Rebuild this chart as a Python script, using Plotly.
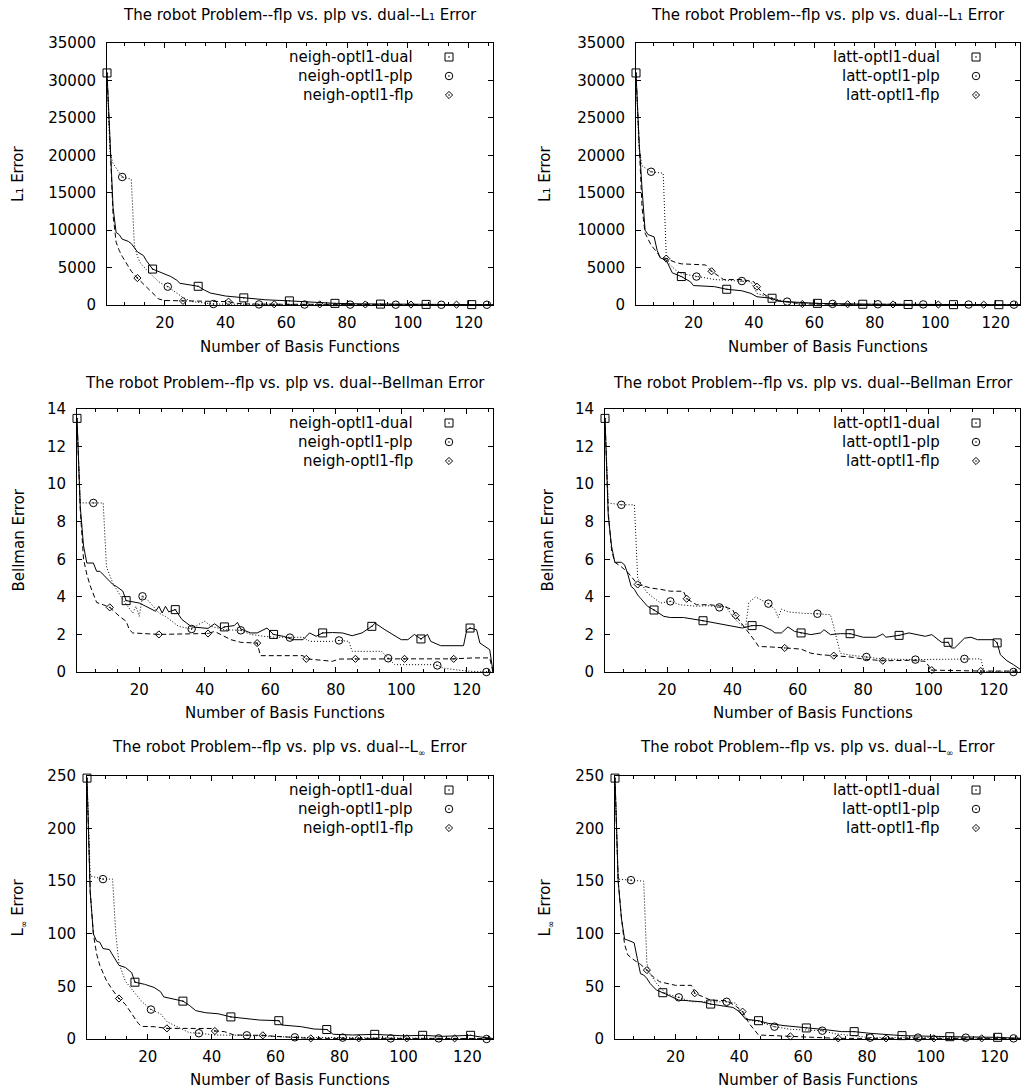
import plotly.graph_objects as go

W, H = 1021, 1092
FONT = "DejaVu Sans"
FS = 15

# ---------------- data ----------------
x_range = [1, 128]
x_tick_values = [20, 40, 60, 80, 100, 120]
x_minor_ticks = [6.667, 13.333, 26.667, 33.333, 46.667, 53.333, 66.667, 73.333,
                 86.667, 93.333, 106.667, 113.333, 126.667]

l1_ticks = [0, 5000, 10000, 15000, 20000, 25000, 30000, 35000]
bell_ticks = [0, 2, 4, 6, 8, 10, 12, 14]
linf_ticks = [0, 50, 100, 150, 200, 250]

# L1 error, neigh
l1_neigh_dual_x = [1, 2, 3, 4, 5, 6, 7, 8, 9, 11, 13, 14, 16, 19, 22, 24, 25, 28, 31, 33, 35, 40, 46, 53, 61, 68, 76, 85, 91, 100, 106, 115, 121, 128]
l1_neigh_dual_y = [31000, 22000, 13000, 9700, 9400, 8800, 8700, 8500, 8200, 7100, 6600, 5900, 4800, 4300, 3800, 3300, 2900, 2700, 2500, 2000, 1600, 1200, 950, 700, 550, 350, 220, 150, 120, 90, 80, 60, 50, 40]
l1_neigh_plp_x = [1, 2, 3, 6, 9, 10, 11, 12, 14, 16, 18, 21, 24, 26, 29, 32, 36, 41, 46, 51, 66, 81, 96, 111, 126, 128]
l1_neigh_plp_y = [31000, 20300, 18900, 17100, 16800, 8000, 6500, 5600, 4700, 3900, 3100, 2450, 1550, 1000, 450, 300, 130, 110, 90, 80, 60, 50, 40, 30, 30, 30]
l1_neigh_flp_x = [1, 2, 3, 4, 5, 6, 8, 9, 11, 13, 15, 17, 18, 20, 26, 30, 36, 41, 43, 46, 56, 71, 86, 101, 116, 128]
l1_neigh_flp_y = [31000, 21000, 12000, 8400, 7300, 6500, 5100, 4500, 3600, 2800, 2000, 1200, 800, 600, 550, 500, 450, 450, 250, 150, 100, 80, 70, 60, 50, 50]

# L1 error, latt
l1_latt_dual_x = [1, 2, 3, 4, 5, 7, 8, 9, 11, 12, 13, 16, 19, 20, 27, 31, 36, 39, 41, 46, 48, 55, 61, 76, 91, 106, 121, 128]
l1_latt_dual_y = [31000, 22000, 15500, 10000, 9400, 9100, 7300, 6300, 6000, 5100, 4300, 3800, 3100, 2600, 2450, 2100, 1900, 1550, 1100, 900, 500, 350, 220, 100, 70, 50, 40, 30]
l1_latt_plp_x = [1, 2, 3, 6, 10, 11, 12, 14, 16, 21, 24, 27, 31, 36, 39, 41, 44, 47, 51, 56, 61, 66, 81, 96, 111, 126, 128]
l1_latt_plp_y = [31000, 21000, 18600, 17800, 17600, 6700, 5500, 4700, 4200, 3800, 3550, 3400, 3300, 3200, 3100, 1550, 1200, 800, 450, 250, 200, 150, 100, 80, 60, 50, 50]
l1_latt_flp_x = [1, 2, 3, 4, 6, 8, 9, 11, 14, 16, 24, 26, 28, 30, 36, 40, 41, 43, 46, 51, 56, 71, 86, 101, 116, 128]
l1_latt_flp_y = [31000, 21000, 13000, 9600, 8000, 7000, 6400, 6200, 5700, 5500, 5350, 4500, 3900, 3400, 3400, 3100, 2450, 1550, 700, 450, 130, 100, 80, 60, 50, 40]

# Bellman error, neigh
bell_neigh_dual_x = [1, 2, 3, 4, 6, 7, 8, 10, 12, 13, 15, 16, 20, 22, 25, 26, 27, 28, 29, 31, 33, 36, 41, 43, 45, 46, 49, 50, 51, 54, 56, 59, 61, 64, 67, 70, 72, 74, 76, 79, 82, 85, 88, 91, 92, 95, 100, 102, 104, 106, 108, 109, 112, 119, 120, 121, 123, 124, 126, 127, 128]
bell_neigh_dual_y = [13.5, 8.8, 6.7, 5.8, 5.8, 5.36, 5.36, 5.0, 4.65, 4.56, 4.3, 3.8, 3.67, 3.5, 3.23, 3.5, 3.14, 3.5, 3.2, 3.32, 2.8, 2.4, 2.32, 2.57, 2.3, 2.4, 2.47, 2.64, 2.29, 2.08, 2.08, 2.34, 2.0, 1.9, 1.72, 1.72, 2.08, 1.9, 2.08, 2.1, 2.08, 1.93, 2.08, 2.43, 2.6, 2.25, 1.72, 1.72, 2.0, 1.76, 2.0, 1.63, 1.4, 1.4, 2.25, 2.34, 2.25, 1.54, 1.28, 1.19, 0.0]
bell_neigh_plp_x = [1, 2, 6, 9, 10, 12, 15, 18, 19, 20, 21, 23, 26, 28, 30, 32, 36, 38, 40, 42, 46, 51, 54, 58, 62, 66, 70, 72, 79, 81, 84, 85, 94, 96, 98, 110, 111, 113, 120, 126, 128]
bell_neigh_plp_y = [13.5, 9.0, 9.0, 9.0, 5.6, 4.7, 3.85, 3.14, 3.5, 2.96, 4.03, 3.76, 3.14, 2.96, 2.7, 2.43, 2.29, 2.52, 2.7, 2.43, 2.25, 2.22, 2.0, 1.9, 1.85, 1.83, 1.85, 1.63, 1.63, 1.68, 1.63, 1.1, 1.1, 0.73, 0.39, 0.39, 0.35, 0.2, 0.05, 0.0, 0.0]
bell_neigh_flp_x = [1, 2, 3, 4, 5, 7, 9, 11, 14, 16, 17, 18, 26, 41, 43, 45, 48, 51, 56, 57, 70, 71, 79, 81, 86, 101, 116, 122, 127, 128]
bell_neigh_flp_y = [13.5, 8.6, 6.0, 5.2, 4.6, 3.7, 3.58, 3.44, 2.96, 2.7, 2.25, 2.08, 2.0, 2.05, 2.16, 1.99, 1.72, 1.58, 1.54, 0.87, 0.87, 0.7, 0.57, 0.69, 0.7, 0.7, 0.7, 0.75, 0.75, 0.0]

# Bellman error, latt
bell_latt_dual_x = [1, 2, 3, 4, 6, 7, 8, 9, 10, 11, 12, 14, 16, 19, 21, 25, 31, 35, 39, 43, 46, 49, 52, 53, 55, 57, 59, 61, 64, 67, 68, 70, 73, 76, 80, 84, 86, 87, 91, 94, 97, 99, 101, 104, 106, 107, 108, 110, 111, 113, 115, 120, 121, 122, 124, 126, 128]
bell_latt_dual_y = [13.5, 8.3, 6.7, 5.84, 5.84, 5.7, 5.2, 4.56, 4.4, 4.1, 3.9, 3.5, 3.3, 2.96, 2.9, 2.9, 2.73, 2.6, 2.43, 2.34, 2.47, 2.47, 2.22, 2.08, 2.08, 2.4, 2.16, 2.08, 1.99, 2.08, 2.25, 1.99, 2.04, 2.04, 1.85, 1.85, 2.02, 1.85, 1.95, 2.08, 1.99, 1.9, 1.99, 1.58, 1.58, 1.28, 1.28, 1.63, 1.8, 1.85, 1.72, 1.72, 1.55, 0.92, 0.6, 0.39, 0.15]
bell_latt_plp_x = [1, 2, 6, 10, 11, 14, 18, 21, 24, 29, 33, 36, 38, 40, 42, 44, 45, 47, 51, 53, 54, 55, 57, 62, 66, 70, 71, 73, 76, 81, 86, 96, 111, 116, 117, 126, 128]
bell_latt_plp_y = [13.5, 9.0, 8.9, 8.9, 5.0, 4.2, 3.67, 3.76, 3.58, 3.5, 3.53, 3.44, 3.5, 2.96, 2.6, 2.34, 3.7, 4.0, 3.64, 3.33, 2.9, 3.35, 3.2, 3.12, 3.1, 3.05, 2.4, 1.0, 0.9, 0.8, 0.69, 0.66, 0.7, 0.7, 0.03, 0.0, 0.0]
bell_latt_flp_x = [1, 2, 3, 4, 6, 8, 11, 15, 18, 21, 25, 26, 29, 33, 37, 40, 41, 43, 45, 47, 48, 52, 56, 61, 64, 67, 71, 76, 80, 86, 94, 99, 101, 116, 128]
bell_latt_flp_y = [13.5, 8.5, 6.5, 5.84, 5.6, 5.3, 4.66, 4.47, 4.4, 4.3, 4.3, 3.9, 3.58, 3.58, 3.5, 3.33, 3.0, 2.52, 2.08, 1.63, 1.36, 1.33, 1.28, 1.22, 1.0, 0.92, 0.87, 0.8, 0.69, 0.6, 0.62, 0.57, 0.1, 0.05, 0.05]

# L-infinity error, neigh
linf_neigh_dual_x = [1, 2, 3, 4, 5, 6, 8, 9, 11, 13, 15, 16, 19, 22, 24, 25, 28, 31, 33, 35, 38, 42, 46, 50, 55, 61, 62, 68, 72, 76, 78, 84, 91, 100, 106, 112, 121, 124, 128]
linf_neigh_dual_y = [248, 140, 100, 93, 92, 86, 85, 80, 70, 68, 63, 54, 52, 49, 45, 40, 38, 36, 32, 27, 25, 24, 21, 19.5, 18, 17.4, 13.3, 11.7, 9.5, 9.0, 4.5, 3.8, 4.4, 3.0, 3.5, 2.5, 3.5, 2.0, 0.5]
linf_neigh_plp_x = [1, 2, 6, 9, 10, 11, 13, 15, 18, 21, 24, 26, 29, 33, 36, 41, 51, 66, 81, 96, 111, 126, 128]
linf_neigh_plp_y = [248, 155, 152, 152, 100, 72, 55, 47, 36, 28, 24, 16.5, 11.7, 6, 5.5, 3.8, 3.5, 1.6, 1.3, 0.6, 0.6, 0, 0]
linf_neigh_flp_x = [1, 2, 3, 4, 5, 7, 9, 11, 13, 15, 17, 18, 22, 26, 31, 40, 41, 44, 47, 56, 60, 71, 86, 101, 116, 128]
linf_neigh_flp_y = [248, 140, 100, 81, 70, 56, 46.5, 38.5, 33, 24, 15, 12, 11.7, 10.1, 10.1, 10, 7.6, 7, 3.8, 3.5, 2.5, 0.6, 0.6, 0.6, 0.6, 0.5]

# L-infinity error, latt
linf_latt_dual_x = [1, 2, 3, 4, 5, 7, 8, 9, 10, 11, 12, 14, 16, 19, 21, 24, 28, 31, 35, 38, 40, 42, 46, 49, 54, 58, 61, 66, 72, 76, 81, 91, 106, 121, 128]
linf_latt_dual_y = [248, 150, 115, 95, 94, 91.5, 76.5, 62, 60.8, 57.6, 52.8, 46.5, 44, 40, 37, 36.4, 35.4, 33.2, 31.3, 30, 26, 18.7, 17.4, 14.9, 12.7, 11.7, 10.5, 9.2, 7, 7, 5.4, 3.2, 2.2, 1.6, 0.6]
linf_latt_plp_x = [1, 2, 6, 10, 11, 12, 14, 17, 21, 25, 36, 39, 40, 43, 46, 51, 56, 66, 70, 81, 96, 111, 126, 128]
linf_latt_plp_y = [248, 152, 151, 150, 72, 62, 53, 43, 39.6, 35.4, 35.4, 34, 26, 18, 16.5, 11.7, 9.2, 7.9, 5, 1.3, 1.3, 1.3, 0.6, 0.6]
linf_latt_flp_x = [1, 2, 3, 4, 5, 7, 9, 11, 13, 15, 20, 25, 26, 31, 36, 39, 41, 43, 46, 56, 71, 86, 101, 116, 128]
linf_latt_flp_y = [248, 150, 116, 90, 80, 75, 71, 65.5, 59, 54.4, 51, 51, 43.5, 37, 36.4, 31, 26, 15, 3.8, 2.5, 0.6, 0.6, 0.6, 0.6, 0.6]

# ---------------- layout description ----------------
INF_SUB = "<span style='font-size:9px;baseline-shift:-4px'>\u221e</span>"
TITLE_L1 = "The robot Problem--flp vs. plp vs. dual--L\u2081 Error"
TITLE_BELL = "The robot Problem--flp vs. plp vs. dual--Bellman Error"
TITLE_LINF = "The robot Problem--flp vs. plp vs. dual--L" + INF_SUB + " Error"

panels = [
    dict(box=(107, 493, 43, 305), ymax=35000, ticks=l1_ticks, title=TITLE_L1,
         ytitle="L\u2081 Error", prefix="neigh", ytx=18, title_y=15, xt_y=347,
         series=[(l1_neigh_dual_x, l1_neigh_dual_y), (l1_neigh_plp_x, l1_neigh_plp_y), (l1_neigh_flp_x, l1_neigh_flp_y)]),
    dict(box=(636, 1020, 43, 305), ymax=35000, ticks=l1_ticks, title=TITLE_L1,
         ytitle="L\u2081 Error", prefix="latt", ytx=545, title_y=15, xt_y=347,
         series=[(l1_latt_dual_x, l1_latt_dual_y), (l1_latt_plp_x, l1_latt_plp_y), (l1_latt_flp_x, l1_latt_flp_y)]),
    dict(box=(77, 493, 409, 672), ymax=14, ticks=bell_ticks, title=TITLE_BELL,
         ytitle="Bellman Error", prefix="neigh", ytx=18, title_y=383, xt_y=713,
         series=[(bell_neigh_dual_x, bell_neigh_dual_y), (bell_neigh_plp_x, bell_neigh_plp_y), (bell_neigh_flp_x, bell_neigh_flp_y)]),
    dict(box=(605, 1020, 409, 672), ymax=14, ticks=bell_ticks, title=TITLE_BELL,
         ytitle="Bellman Error", prefix="latt", ytx=547, title_y=383, xt_y=713,
         series=[(bell_latt_dual_x, bell_latt_dual_y), (bell_latt_plp_x, bell_latt_plp_y), (bell_latt_flp_x, bell_latt_flp_y)]),
    dict(box=(87, 493, 776, 1039), ymax=250, ticks=linf_ticks, title=TITLE_LINF,
         ytitle="L" + INF_SUB + " Error", prefix="neigh", ytx=18, title_y=748, xt_y=1080,
         series=[(linf_neigh_dual_x, linf_neigh_dual_y), (linf_neigh_plp_x, linf_neigh_plp_y), (linf_neigh_flp_x, linf_neigh_flp_y)]),
    dict(box=(615, 1020, 776, 1039), ymax=250, ticks=linf_ticks, title=TITLE_LINF,
         ytitle="L" + INF_SUB + " Error", prefix="latt", ytx=545, title_y=748, xt_y=1080,
         series=[(linf_latt_dual_x, linf_latt_dual_y), (linf_latt_plp_x, linf_latt_plp_y), (linf_latt_flp_x, linf_latt_flp_y)]),
]

series_style = [
    dict(suffix="dual", dash="solid", symbol="square-open-dot", size=8, first=1),
    dict(suffix="plp", dash="1px,2px", symbol="circle-open-dot", size=7.5, first=6),
    dict(suffix="flp", dash="5px,3px", symbol="diamond-open-dot", size=5.5, first=11),
]


def px(x):
    return x / W


def py(y):
    return 1 - y / H


fig = go.Figure()
annotations = []
layout = {}

LEG_ROW = 19  # plotly legend row height for a small legend font

for i, p in enumerate(panels, start=1):
    l, r, t, b = p["box"]
    xa = "x" if i == 1 else f"x{i}"
    ya = "y" if i == 1 else f"y{i}"
    leg = "legend" if i == 1 else f"legend{i}"
    for (xs, ys), st in zip(p["series"], series_style):
        fig.add_trace(go.Scatter(
            x=xs, y=ys, mode="lines", xaxis=xa, yaxis=ya, showlegend=False,
            line=dict(color="black", width=1, dash=st["dash"]), hoverinfo="skip"))
        mx = [xv for xv in xs if (xv - st["first"]) % 15 == 0]
        my = [yv for xv, yv in zip(xs, ys) if (xv - st["first"]) % 15 == 0]
        fig.add_trace(go.Scatter(
            x=mx, y=my, mode="markers", xaxis=xa, yaxis=ya, legend=leg,
            name=" ", showlegend=True, cliponaxis=False,
            marker=dict(symbol=st["symbol"], size=st["size"], color="black",
                        line=dict(color="black", width=1))))

    common = dict(showline=True, linecolor="black", linewidth=1, mirror="allticks",
                  ticks="inside", ticklen=5, tickcolor="black", tickwidth=1,
                  showgrid=False, zeroline=False,
                  tickfont=dict(family=FONT, size=FS, color="black"))
    layout["xaxis" if i == 1 else f"xaxis{i}"] = dict(
        common, domain=[px(l), px(r)], range=x_range, anchor=ya,
        tickmode="array", tickvals=x_tick_values, ticklabelstandoff=4,
        minor=dict(tickmode="array", tickvals=x_minor_ticks, ticks="inside",
                   ticklen=3, tickcolor="black", showgrid=False))
    layout["yaxis" if i == 1 else f"yaxis{i}"] = dict(
        common, domain=[py(b), py(t)], range=[0, p["ymax"]], anchor=xa,
        tickmode="array", tickvals=p["ticks"], tickformat="d", ticklabelstandoff=7)

    cx = (l + r) / 2
    cy = (t + b) / 2
    annotations.append(dict(text=p["title"], x=px(cx), y=py(p["title_y"]), xref="paper", yref="paper",
                            xanchor="center", yanchor="middle", showarrow=False,
                            font=dict(family=FONT, size=FS, color="black")))
    annotations.append(dict(text="Number of Basis Functions", x=px(cx), y=py(p["xt_y"]), xref="paper",
                            yref="paper", xanchor="center", yanchor="middle", showarrow=False,
                            font=dict(family=FONT, size=FS, color="black")))
    annotations.append(dict(text=p["ytitle"], x=px(p["ytx"]), y=py(cy), xref="paper", yref="paper",
                            xanchor="center", yanchor="middle", showarrow=False, textangle=-90,
                            font=dict(family=FONT, size=FS, color="black")))

    # key: symbols from plotly's legend, labels right-aligned to their left (gnuplot style)
    sym_x = r - 44
    text_right = r - 78
    row_mid = t + 33
    layout[leg] = dict(x=px(sym_x - 20), y=py(row_mid - LEG_ROW - LEG_ROW / 2 - 5),
                       xanchor="left", yanchor="top",
                       bgcolor="rgba(0,0,0,0)", borderwidth=0, tracegroupgap=0,
                       font=dict(family=FONT, size=10, color="black"), itemwidth=30)
    for k, st in enumerate(series_style):
        annotations.append(dict(text=f"{p['prefix']}-optl1-{st['suffix']}", x=px(text_right),
                                y=py(row_mid + (k - 1) * LEG_ROW), xref="paper", yref="paper",
                                xanchor="right", yanchor="middle", showarrow=False,
                                font=dict(family=FONT, size=FS, color="black")))

fig.update_layout(width=W, height=H, margin=dict(l=0, r=0, t=0, b=0, autoexpand=False),
                  paper_bgcolor="white", plot_bgcolor="white",
                  annotations=annotations, **layout)

fig.write_html("out.html")
